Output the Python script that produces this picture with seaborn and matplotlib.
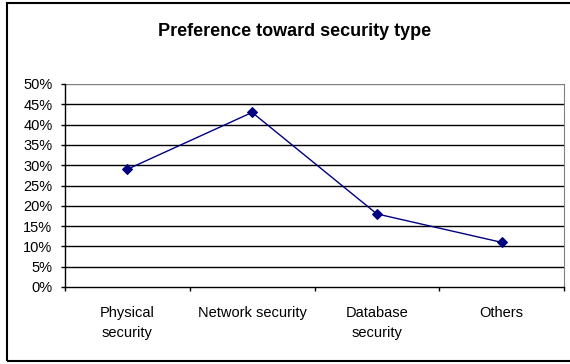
import matplotlib
matplotlib.use("Agg")
import matplotlib.pyplot as plt
import matplotlib.patches as mpatches
from matplotlib.ticker import FixedLocator
import seaborn as sns
import pandas as pd

categories = ["Physical\nsecurity", "Network security", "Database\nsecurity", "Others"]
preference = [29, 43, 18, 11]
y_ticks = [0, 5, 10, 15, 20, 25, 30, 35, 40, 45, 50]
y_tick_labels = [f"{v}%" for v in y_ticks]
title = "Preference toward security type"

sns.set_style("white")
plt.rcParams["font.family"] = ["Liberation Sans", "DejaVu Sans"]
plt.rcParams["text.color"] = "black"
plt.rcParams["xtick.color"] = "black"
plt.rcParams["ytick.color"] = "black"
plt.rcParams["xtick.labelcolor"] = "black"
plt.rcParams["ytick.labelcolor"] = "black"

df = pd.DataFrame({"category": categories, "preference": preference})

fig = plt.figure(figsize=(5.7, 3.64), dpi=100)
ax = fig.add_axes([65 / 570, 1 - 287 / 364, (564 - 65) / 570, (287 - 84) / 364])

sns.lineplot(data=df, x="category", y="preference", ax=ax, sort=False,
             color="#000080", linewidth=1.0, marker="D", markersize=5,
             markeredgecolor="#000080", markerfacecolor="#000080")

ax.set_xlim(-0.5, len(categories) - 0.5)
ax.set_ylim(0, 50)
ax.set_yticks(y_ticks)
ax.set_yticklabels(y_tick_labels)
ax.set_xlabel("")
ax.set_ylabel("")

# horizontal gridlines
for v in y_ticks[1:-1]:
    ax.axhline(v, color="black", linewidth=1.0, zorder=0)
ax.axhline(50, color="#808080", linewidth=1.0, zorder=0)

for side in ["left", "bottom"]:
    ax.spines[side].set_color("black")
    ax.spines[side].set_linewidth(1.0)
    ax.spines[side].set_visible(True)
ax.spines["right"].set_color("#808080")
ax.spines["right"].set_visible(True)
ax.spines["top"].set_visible(False)

# category boundaries carry the tick marks
ax.xaxis.set_minor_locator(FixedLocator([i - 0.5 for i in range(len(categories) + 1)]))
ax.tick_params(axis="x", which="major", length=0, pad=13.5, labelsize=10.5)
ax.tick_params(axis="x", which="minor", length=3, width=1, color="black", direction="out", bottom=True)
ax.tick_params(axis="y", which="major", length=3, width=1, color="black", direction="out",
               pad=6, labelsize=10.5, left=True)
for lbl in ax.get_xticklabels():
    lbl.set_linespacing(1.6)
    lbl.set_verticalalignment("top")

fig.text(295 / 570, 1 - 31 / 364, title, ha="center", va="center",
         fontsize=13, fontweight="bold", color="black")

# chart area frame
frame = mpatches.Rectangle((7 / 570, 3 / 364), 1.2, 1 - 6 / 364,
                           transform=fig.transFigure, fill=False,
                           edgecolor="black", linewidth=1.5, clip_on=False)
fig.patches.append(frame)

fig.savefig("out.png", dpi=100)
